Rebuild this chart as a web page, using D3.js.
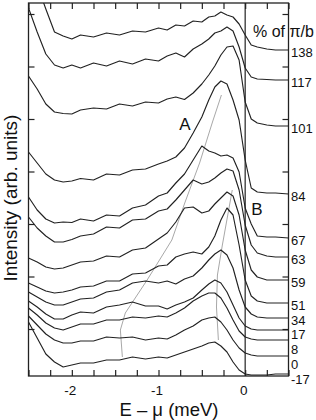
<!DOCTYPE html>
<html><head><meta charset="utf-8">
<script src="https://cdn.jsdelivr.net/npm/d3@7"></script>
<style>body{margin:0;background:#fff}</style>
</head><body>
<svg id="chart" width="316" height="420"></svg>
<script>
// Energy grid (meV) shared by all spectra
const energy = [-2.5,-2.4,-2.3,-2.2,-2.1,-2.0,-1.9,-1.75,-1.6,-1.45,-1.3,-1.15,-1.0,-0.9,-0.8,-0.7,-0.6,-0.5,-0.42,-0.35,-0.28,-0.21,-0.14,-0.07,0,0.07,0.14,0.25,0.35,0.5];
// Momentum labels (% of pi/b), top to bottom
const momentumLabels = ["138","117","101","84","67","63","59","51","34","17","8","0","-17"];
// Intensity (arb. units, offset spectra)
const k138 = [41.6,39.1,36.7,34.4,34.0,33.7,34.1,33.9,34.3,34.1,34.5,34.4,34.8,34.6,35.1,35.0,35.5,35.4,35.9,36.0,36.4,36.1,35.9,35.2,34.1,33.1,32.9,32.7,32.6,32.6];
const k117 = [36.8,34.4,32.2,31.1,30.8,31.1,30.8,31.3,31.0,31.5,31.2,31.7,31.5,32.0,32.3,31.9,32.7,33.2,33.7,34.3,34.5,34.9,34.5,32.9,30.8,29.9,29.7,29.65,29.6,29.6];
const k101 = [30.0,28.7,27.2,26.4,26.25,26.2,26.6,26.8,26.7,27.2,27.0,27.4,27.3,27.7,27.9,27.65,28.3,29.2,30.1,31.0,32.1,32.9,33.0,31.6,27.4,25.7,25.3,25.1,25.0,25.0];
const k84 = [22.4,21.3,20.2,19.6,19.4,19.5,19.75,19.6,20.2,20.1,20.6,20.7,21.2,21.5,21.9,22.8,24.3,25.9,27.6,28.9,29.5,29.2,27.6,25.6,21.6,18.8,18.4,18.3,18.3,18.2];
const k67 = [17.9,16.6,15.7,15.3,15.4,15.35,15.7,15.5,16.1,16.0,16.8,17.1,18.0,18.3,19.3,20.2,21.6,23.0,22.5,22.3,22.0,22.1,21.8,20.4,16.8,15.2,14.0,13.9,13.9,13.8];
const k63 = [15.9,14.8,14.0,13.4,13.4,13.65,14.0,14.2,14.9,14.8,15.6,15.7,16.5,16.7,17.6,18.6,19.6,19.2,19.4,19.8,20.3,20.7,20.5,18.6,15.1,13.1,12.3,12.0,11.9,11.9];
const k59 = [11.8,11.4,10.9,10.7,10.8,11.1,11.4,11.5,12.0,11.9,12.6,12.8,13.7,14.3,15.4,16.8,16.9,16.3,16.5,17.2,17.8,18.4,18.0,16.1,12.6,10.6,9.9,9.6,9.6,9.6];
const k51 = [9.3,8.9,8.5,8.3,8.4,8.6,8.9,9.0,9.5,9.5,10.2,10.3,11.0,11.1,11.9,12.2,12.4,12.2,12.9,14.0,15.6,16.8,16.1,13.1,9.6,8.0,7.5,7.3,7.3,7.3];
const k34 = [8.4,7.9,7.4,7.1,7.1,7.4,7.7,7.8,8.4,8.6,9.3,9.5,9.3,9.5,9.2,9.7,10.0,10.8,11.6,12.2,12.6,12.1,10.8,8.6,6.9,6.2,5.9,5.8,5.8,5.8];
const k17 = [7.5,6.9,6.2,5.7,5.7,6.1,6.4,6.3,6.9,7.1,7.4,7.0,7.0,6.7,7.1,7.4,7.8,8.6,9.2,9.6,9.3,8.4,7.1,5.8,5.0,4.7,4.6,4.6,4.6,4.6];
const k8 = [6.8,6.1,5.3,4.8,4.6,4.9,5.2,5.2,5.6,5.6,5.9,5.8,6.0,5.9,6.3,6.8,7.5,8.0,8.3,8.3,7.8,6.8,5.6,4.5,3.9,3.7,3.6,3.6,3.6,3.6];
const k0 = [6.0,5.1,4.2,3.6,3.3,3.3,3.5,3.5,3.9,3.8,3.9,3.6,3.8,3.7,4.1,4.6,5.0,5.6,5.8,5.9,5.4,4.6,3.6,2.8,2.3,2.1,2.0,2.0,2.0,2.0];
const km17 = [5.4,3.8,2.2,1.4,0.9,1.1,1.3,1.3,1.6,1.6,1.9,1.7,1.9,1.8,2.1,2.4,2.7,3.0,3.3,3.4,3.0,2.4,1.4,0.6,0.2,0.1,0.1,0.1,0.2,0.2];
const spectra = [k138,k117,k101,k84,k67,k63,k59,k51,k34,k17,k8,k0,km17];
// Guide lines through peak A and peak B
const ridgeA_E = [-0.274,-0.377,-0.526,-0.697,-0.846,-1.131,-1.383,-1.44,-1.417];
const ridgeA_I = [28.1,25.4,21.3,17.3,13.6,9.6,6.3,4.6,1.9];
const ridgeB_E = [-0.149,-0.263,-0.32,-0.331,-0.309];
const ridgeB_I = [18.6,13.1,10.1,6.9,3.6];
// Axes
const xTicks = [-2.5,-2.25,-2.0,-1.75,-1.5,-1.25,-1.0,-0.75,-0.5,-0.25,0,0.25,0.5];
const xTickLabels = [-2,-1,0];
const yTicks = [4.7,9.95,15.2,20.45,25.7,30.95,36.2];

const svg = d3.select("#chart");
const L = 28.5, R = 288.5, T = 3, B = 376;
const x = d3.scaleLinear().domain([-2.5,0.5]).range([L,R]);
const y = d3.scaleLinear().domain([0,37.3]).range([B,T]);
const font = "'Liberation Sans', Arial, Helvetica, sans-serif";

svg.append("defs").append("clipPath").attr("id","clip")
  .append("rect").attr("x",L).attr("y",T).attr("width",R-L).attr("height",B-T);

const g = svg.append("g").attr("clip-path","url(#clip)");
const line = d3.line().x(d=>x(d[0])).y(d=>y(d[1]));

// guides
g.append("path").datum(ridgeA_E.map((e,i)=>[e,ridgeA_I[i]]))
  .attr("d",line).attr("fill","none").attr("stroke","#a8a8a8").attr("stroke-width",1);
g.append("path").datum(ridgeB_E.map((e,i)=>[e,ridgeB_I[i]]))
  .attr("d",line).attr("fill","none").attr("stroke","#a8a8a8").attr("stroke-width",1);

// E = mu line
g.append("line").attr("x1",x(0)).attr("x2",x(0)).attr("y1",T).attr("y2",B)
  .attr("stroke","#222").attr("stroke-width",1.2);

spectra.forEach(s=>{
  g.append("path").datum(energy.map((e,i)=>[e,s[i]]))
   .attr("d",line).attr("fill","none").attr("stroke","#222").attr("stroke-width",1.15)
   .attr("stroke-linejoin","round");
});

// frame
svg.append("rect").attr("x",L).attr("y",T).attr("width",R-L).attr("height",B-T)
  .attr("fill","none").attr("stroke","#222").attr("stroke-width",1.3);

// ticks (inward)
const axB = d3.axisBottom(x).tickValues(xTicks).tickSize(-6).tickFormat("");
const axT = d3.axisTop(x).tickValues(xTicks).tickSize(-6).tickFormat("");
const axL = d3.axisLeft(y).tickValues(yTicks).tickSize(-6).tickFormat("");
const axR = d3.axisRight(y).tickValues(yTicks).tickSize(-6).tickFormat("");
[[axB,`translate(0,${B})`],[axT,`translate(0,${T})`],[axL,`translate(${L},0)`],[axR,`translate(${R},0)`]].forEach(([a,t])=>{
  const gg = svg.append("g").attr("transform",t).call(a);
  gg.select(".domain").remove();
  gg.selectAll("line").attr("stroke","#222").attr("stroke-width",1.2);
});

// x tick labels
svg.selectAll(".xl").data(xTickLabels).enter().append("text")
  .attr("x",d=>x(d)-1.5).attr("y",395).attr("text-anchor","middle")
  .attr("font-family",font).attr("font-size",13.5).attr("fill","#111")
  .text(d=>d===0?"0":"-"+Math.abs(d));

// right labels at curve end levels, nudged apart so they don't collide
const labelY = spectra.map(s=>y(s[s.length-1])+2);
for(let i=1;i<labelY.length;i++){ if(labelY[i]-labelY[i-1]<14.8) labelY[i]=labelY[i-1]+14.8; }
svg.selectAll(".rl").data(momentumLabels).enter().append("text")
  .attr("x",R+2.5).attr("y",(d,i)=>labelY[i]).attr("dy","0.36em")
  .attr("font-family",font).attr("font-size",13).attr("fill","#111").text(d=>d);

svg.append("text").attr("x",253).attr("y",37).attr("font-family",font).attr("font-size",16)
  .attr("fill","#111").text("% of π/b");
svg.append("text").attr("x",185).attr("y",130).attr("text-anchor","middle").attr("font-family",font)
  .attr("font-size",17).attr("fill","#111").text("A");
svg.append("text").attr("x",257).attr("y",215).attr("text-anchor","middle").attr("font-family",font)
  .attr("font-size",17).attr("fill","#111").text("B");

svg.append("text").attr("x",169).attr("y",416).attr("text-anchor","middle").attr("font-family",font)
  .attr("font-size",18.5).attr("fill","#111").text("E – μ (meV)");
svg.append("text").attr("transform","translate(17,198) rotate(-90)").attr("text-anchor","middle")
  .attr("font-family",font).attr("font-size",19).attr("fill","#111").text("Intensity (arb. units)");
</script>
</body></html>
